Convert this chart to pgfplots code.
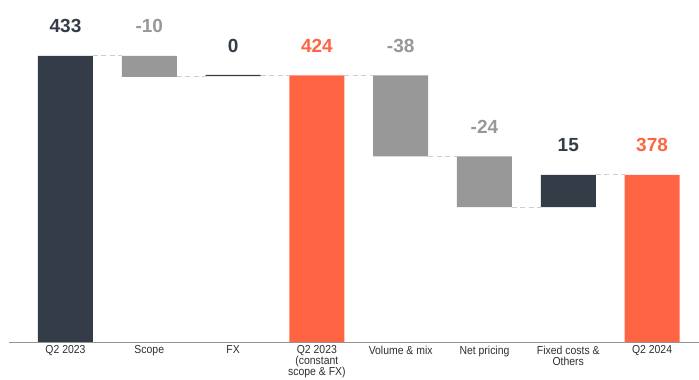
\documentclass[border=0pt]{standalone}
\usepackage{fontspec}
\setmainfont{Liberation Sans}
\newfontfamily\condfont[FakeStretch=0.9]{Liberation Sans}
\usepackage{pgfplots}
\usepackage{pgfplotstable}
\pgfplotsset{compat=1.18}
\definecolor{wdark}{HTML}{333C47}
\definecolor{wgray}{HTML}{989898}
\definecolor{worange}{HTML}{FF6542}
\definecolor{wconn}{HTML}{CDCDCD}
\definecolor{wtick}{HTML}{2E2E2E}

\pgfplotstableread{
x base dark gray orange
0 0     433 0    0
1 423.3 0   9.7  0
2 423.6 0.6 0    0
3 0     0   0    424
4 386.5 0   37.5 0
5 363   0   23.5 0
6 363   15  0    0
7 0     0   0    378
}\wf

\pgfplotsset{wfaxis/.style={
  scale only axis, width=690bp, height=342bp,
  at={(9bp,38bp)}, anchor=south west,
  xmin=-0.674, xmax=7.56, ymin=300.7, ymax=458.8,
}}

\begin{document}
\begin{tikzpicture}
\useasboundingbox (0,0) rectangle (699bp,380bp);
\begin{axis}[wfaxis,
  ybar stacked, bar width=55bp,
  axis x line*=bottom, axis y line=none,
  x axis line style={-, draw=gray!85, line width=0.9bp},
  xtick=data, major tick length=0pt,
  xticklabels={Q2 2023, Scope, FX, {Q2 2023\\(constant\\scope \& FX)}, Volume \& mix, Net pricing, {Fixed costs \&\\Others}, Q2 2024},
  xticklabel style={align=center, text=wtick, inner sep=0pt, yshift=-3.5bp,
    font=\condfont\fontsize{11.6bp}{11bp}\selectfont},
  ytick=\empty,
]
\addplot[draw=none, fill=none] table[x=x, y=base] {\wf};
\addplot[draw=none, fill=wdark] table[x=x, y=dark] {\wf};
\addplot[draw=none, fill=wgray] table[x=x, y=gray] {\wf};
\addplot[draw=none, fill=worange] table[x=x, y=orange] {\wf};
\end{axis}
\begin{axis}[wfaxis, axis lines=none, clip=false]
\tikzset{conn/.style={draw=wconn, line width=1bp, dash pattern=on 5bp off 3.5bp}}
\addplot[conn] coordinates {(0.328,433) (0.672,433)};
\addplot[conn] coordinates {(1.328,423.3) (1.672,423.3)};
\addplot[conn] coordinates {(2.328,424) (2.672,424)};
\addplot[conn] coordinates {(3.328,424) (3.672,424)};
\addplot[conn] coordinates {(4.328,386.5) (4.672,386.5)};
\addplot[conn] coordinates {(5.328,363) (5.672,363)};
\addplot[conn] coordinates {(6.328,378) (6.672,378)};
\tikzset{vl/.style={anchor=base, yshift=23bp, font=\fontsize{19bp}{19bp}\selectfont\bfseries}}
\node[vl, text=wdark]   at (axis cs:0,433)   {433};
\node[vl, text=wgray]   at (axis cs:1,433)   {-10};
\node[vl, text=wdark]   at (axis cs:2,424)   {0};
\node[vl, text=worange] at (axis cs:3,424)   {424};
\node[vl, text=wgray]   at (axis cs:4,424)   {-38};
\node[vl, text=wgray]   at (axis cs:5,386.5) {-24};
\node[vl, text=wdark]   at (axis cs:6,378)   {15};
\node[vl, text=worange] at (axis cs:7,378)   {378};
\end{axis}
\end{tikzpicture}
\end{document}
